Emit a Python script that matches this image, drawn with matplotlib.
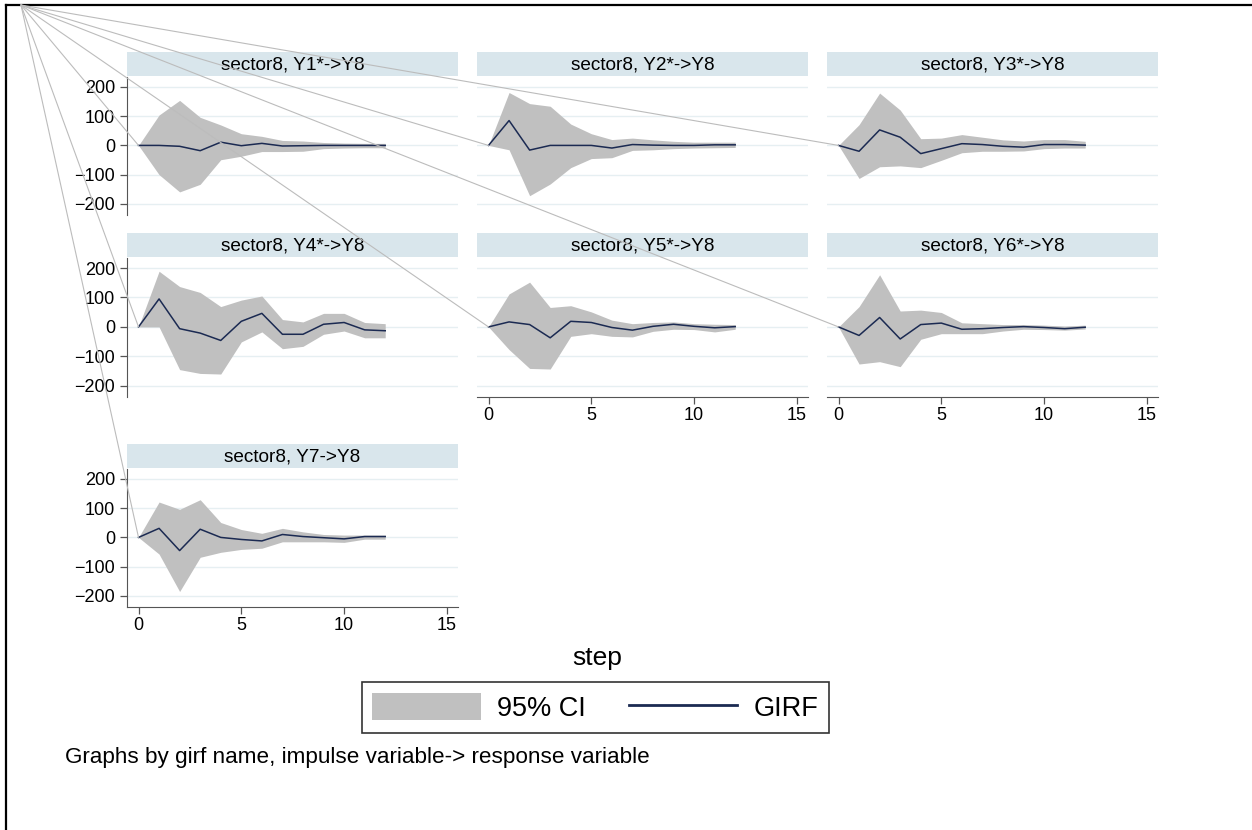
import matplotlib
matplotlib.use("Agg")
import matplotlib.pyplot as plt
from matplotlib.patches import ConnectionPatch
from matplotlib.lines import Line2D

plt.rcParams['font.family'] = ['Liberation Sans', 'DejaVu Sans']

# GIRF of Y8 to shocks in Y1..Y7, steps 0-12, with 95% bands
steps = list(range(13))
titles = ["sector8, Y1*->Y8", "sector8, Y2*->Y8", "sector8, Y3*->Y8",
          "sector8, Y4*->Y8", "sector8, Y5*->Y8", "sector8, Y6*->Y8",
          "sector8, Y7->Y8"]

girf = [
    [0, 0, -3, -18, 11, -1, 7, -2, -1, 0, 0, 0, 0],
    [0, 85, -16, 0, 0, 0, -9, 3, 1, 0, 0, 2, 2],
    [0, -20, 53, 28, -28, -11, 6, 3, -3, -6, 3, 3, 1],
    [0, 95, -6, -21, -46, 19, 46, -25, -25, 9, 15, -10, -13],
    [0, 17, 8, -37, 19, 15, -2, -11, 2, 9, 2, -3, 1],
    [0, -29, 32, -41, 8, 13, -8, -6, -2, 1, -2, -6, -1],
    [0, 31, -45, 28, 0, -7, -12, 10, 3, -1, -5, 3, 3],
]
upper = [
    [0, 104, 154, 96, 70, 40, 31, 17, 15, 10, 8, 7, 7],
    [0, 181, 143, 134, 73, 40, 20, 25, 19, 14, 11, 11, 11],
    [0, 71, 179, 121, 23, 25, 37, 28, 19, 15, 20, 20, 14],
    [0, 189, 137, 117, 69, 91, 105, 25, 17, 46, 46, 15, 11],
    [0, 112, 152, 66, 72, 51, 23, 11, 15, 17, 11, 9, 8],
    [0, 69, 177, 54, 57, 49, 14, 11, 8, 8, 6, 3, 6],
    [0, 121, 96, 129, 51, 27, 14, 31, 19, 10, 8, 8, 8],
]
lower = [
    [0, -100, -159, -133, -49, -37, -21, -21, -20, -11, -9, -8, -8],
    [0, -15, -172, -132, -76, -45, -42, -17, -15, -11, -9, -8, -7],
    [0, -113, -73, -70, -76, -51, -25, -20, -20, -19, -11, -9, -9],
    [0, 0, -145, -158, -160, -51, -17, -74, -66, -25, -14, -37, -37],
    [0, -77, -141, -143, -32, -23, -32, -34, -15, -8, -9, -17, -8],
    [0, -126, -118, -135, -42, -23, -23, -23, -14, -8, -9, -11, -7],
    [0, -57, -185, -68, -51, -41, -37, -15, -15, -15, -17, -6, -6],
]
yticks = [-200, -100, 0, 100, 200]
xticks = [0, 5, 10, 15]

W, H = 1252, 830
fig = plt.figure(figsize=(W / 100, H / 100), dpi=100)


def box(l, t, r, b):
    return [l / W, 1 - b / H, (r - l) / W, (b - t) / H]


col_left = [127, 477, 827]
pan_w = 331
row_tb = [(77, 215), (258, 397), (469, 607)]
strip_h = 24

ci_color = '#c0c0c0'
line_color = '#1b2a52'
grid_color = '#e6eff2'
strip_color = '#d9e6ec'
axis_color = '#555555'

handles = None
for i in range(7):
    r, c = divmod(i, 3)
    top, bot = row_tb[r]
    l = col_left[c]
    ax = fig.add_axes(box(l, top, l + pan_w, bot))
    fb = ax.fill_between(steps, lower[i], upper[i], color=ci_color, lw=0)
    ln, = ax.plot(steps, girf[i], color=line_color, lw=1.1)
    if handles is None:
        handles = [fb, ln]
    ax.set_xlim(-0.56, 15.54)
    ax.set_ylim(-238, 234)
    ax.set_yticks(yticks)
    ax.set_xticks(xticks)
    ax.grid(axis='y', color=grid_color, lw=1)
    ax.set_axisbelow(True)
    for s in ['top', 'right']:
        ax.spines[s].set_visible(False)
    # y axis only in first column
    if c == 0:
        ax.spines['left'].set_color(axis_color)
        ax.tick_params(axis='y', length=5, width=0.9, color=axis_color,
                       labelsize=13, pad=3.5)
    else:
        ax.spines['left'].set_visible(False)
        ax.tick_params(axis='y', length=0, labelleft=False)
    # x axis only on bottom panel of each column
    if i >= 4:
        ax.spines['bottom'].set_color(axis_color)
        ax.tick_params(axis='x', length=5, width=0.9, color=axis_color,
                       labelsize=13, pad=2.5)
    else:
        ax.spines['bottom'].set_visible(False)
        ax.tick_params(axis='x', length=0, labelbottom=False)

    sax = fig.add_axes(box(l, top - strip_h - 1, l + pan_w, top - 1))
    sax.set_facecolor(strip_color)
    sax.set_xticks([])
    sax.set_yticks([])
    for s in sax.spines.values():
        s.set_visible(False)
    sax.text(0.5, 0.45, titles[i], ha='center', va='center', fontsize=13.7,
             transform=sax.transAxes)

    # stray connector from the corner to the first point of each panel
    con = ConnectionPatch(xyA=(21 / W, 1 - 5 / H), coordsA='figure fraction',
                          xyB=(steps[0], girf[i][0]), coordsB=ax.transData,
                          color='#bcbcbc', lw=0.8, zorder=10)
    fig.add_artist(con)

fig.text(597 / W, 1 - 658 / H, 'step', ha='center', va='center', fontsize=19)

leg = fig.legend(handles, ['95% CI', 'GIRF'], loc='center',
                 bbox_to_anchor=(595.5 / W, 1 - 707.5 / H), ncol=2,
                 fontsize=19.5, handlelength=4.0, handleheight=1.15,
                 handletextpad=0.6, columnspacing=1.6, borderpad=0.4,
                 fancybox=False, frameon=True)
leg.get_frame().set_edgecolor('black')
leg.get_frame().set_linewidth(1.2)
for lh in leg.get_lines():
    lh.set_linewidth(2)

fig.text(65 / W, 1 - 757 / H,
         'Graphs by girf name, impulse variable-> response variable',
         ha='left', va='center', fontsize=16.2)

# outer frame (left and top)
fig.add_artist(Line2D([6 / W, 6 / W], [0, 1 - 5 / H], color='black', lw=1.6))
fig.add_artist(Line2D([6 / W, 1], [1 - 5 / H, 1 - 5 / H], color='black', lw=1.6))

fig.savefig('out.png', dpi=100)
